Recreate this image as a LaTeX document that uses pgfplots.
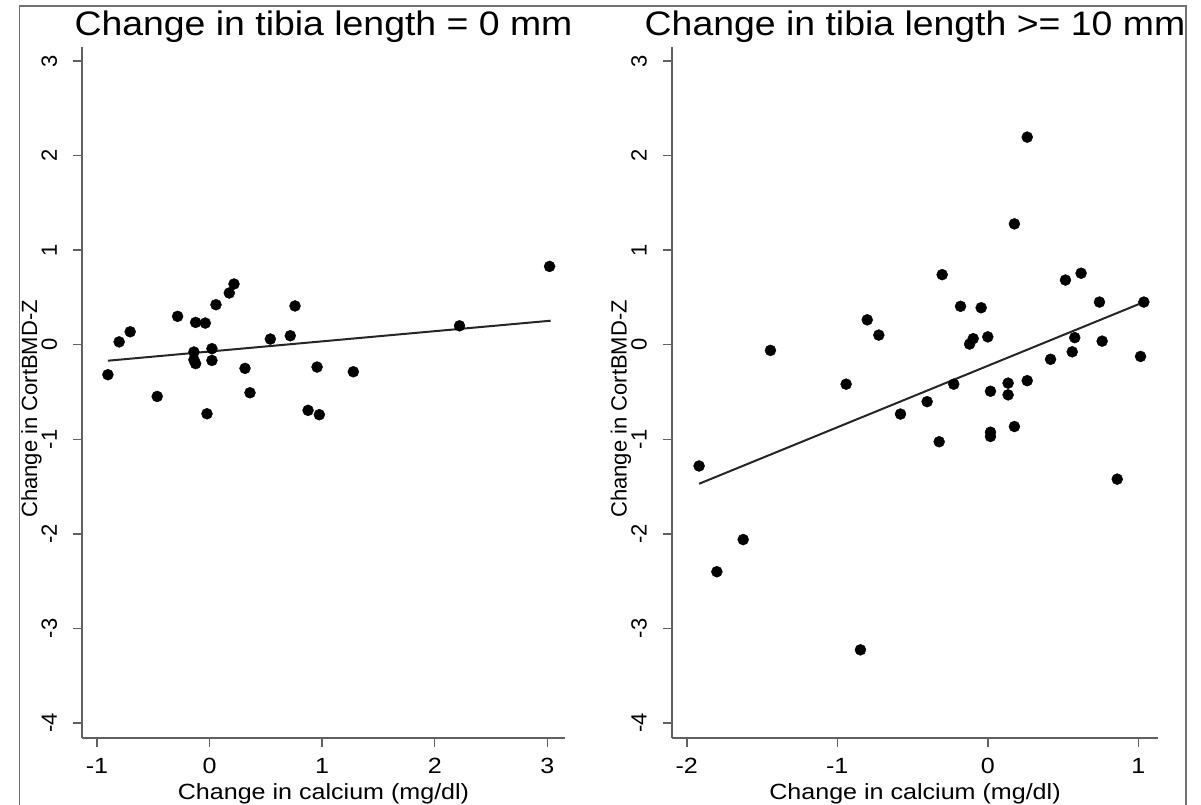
\documentclass[border=0pt]{standalone}
\usepackage{fontspec}
\setmainfont{Liberation Sans}
\newfontfamily\wfont{Liberation Sans}[FakeStretch=1.14]
\newfontfamily\tfont{Liberation Sans}[FakeStretch=1.10]
\usepackage{pgfplots}
\pgfplotsset{compat=1.18}

% change in calcium vs change in CortBMD-Z, tibia growth = 0 mm
\pgfplotstableread{
x y
-0.903 -0.317
-0.803 0.030
-0.705 0.137
-0.465 -0.547
-0.284 0.300
-0.124 0.236
-0.038 0.229
-0.139 -0.077
-0.139 -0.159
-0.124 -0.200
0.021 -0.042
0.021 -0.166
-0.023 -0.730
0.057 0.423
0.175 0.547
0.217 0.642
0.315 -0.250
0.359 -0.508
0.540 0.060
0.717 0.095
0.759 0.410
0.875 -0.694
0.955 -0.236
0.975 -0.740
1.277 -0.286
2.220 0.200
3.020 0.828
}\zerotab

% tibia growth >= 10 mm
\pgfplotstableread{
x y
0.262 2.195
0.177 1.278
-0.303 0.741
0.516 0.684
0.620 0.756
0.742 0.451
1.037 0.451
-0.181 0.406
-0.044 0.391
-0.801 0.263
-0.724 0.102
-1.444 -0.060
-0.097 0.064
-0.121 0.007
0.000 0.083
0.578 0.075
0.760 0.038
0.561 -0.075
1.015 -0.124
0.417 -0.154
-0.941 -0.417
-0.226 -0.417
0.135 -0.406
0.262 -0.380
0.135 -0.530
0.018 -0.492
-0.403 -0.602
-0.580 -0.733
0.177 -0.865
0.018 -0.925
0.018 -0.970
-0.323 -1.026
-1.918 -1.282
0.860 -1.421
-1.625 -2.060
-1.800 -2.400
-0.846 -3.226
}\tentab

\begin{document}
\begin{tikzpicture}[x=1pt,y=1pt]
\path[use as bounding box] (0,0) rectangle (1201,805);
\draw[black!55, line width=1.6pt] (19.5,-5) -- (19.5,799) -- (1186,799) -- (1186,-5);

\pgfplotsset{
  stata/.style={
    scale only axis, height=690.7pt,
    axis lines=left,
    axis line style={-, draw=black!62, line width=1.7pt},
    tick style={draw=black!62, line width=1.5pt},
    tick align=outside, major tick length=9pt,
    ymin=-4.155, ymax=3.148,
    ytick={-4,-3,-2,-1,0,1,2,3},
    yticklabels={-4,-3,-2,-1,0,1,2,3},
    yticklabel style={font=\fontsize{22}{22}\selectfont, rotate=90, anchor=base, yshift=16pt},
    xticklabel style={font=\wfont\fontsize{22}{22}\selectfont, anchor=base, yshift=-26.6pt},
    title style={font=\tfont\fontsize{34}{34}\selectfont, at={(axis description cs:0.5,1)}, anchor=base, yshift=5pt},
    xlabel style={font=\wfont\fontsize{22}{22}\selectfont, at={(axis description cs:0.5,0)}, anchor=base, yshift=-61.3pt},
    ylabel style={font=\fontsize{22}{22}\selectfont, at={(axis description cs:0,0.476)}, anchor=base, yshift=45pt},
    xlabel={Change in calcium (mg/dl)},
    ylabel={Change in CortBMD-Z},
    clip=false,
  },
  dots/.style={only marks, mark=*, mark size=5.5pt, black},
  fit/.style={black!85, line width=2pt},
}

\begin{axis}[stata, at={(82pt,67.3pt)}, anchor=south west, width=483pt,
  xmin=-1.133, xmax=3.157,
  xtick={-1,0,1,2,3}, xticklabels={-1,0,1,2,3},
  title={Change in tibia length = 0 mm}]
\addplot[dots] table {\zerotab};
\addplot[fit] coordinates {(-0.903,-0.169) (3.03,0.254)};
\end{axis}

\begin{axis}[stata, at={(671.7pt,67.3pt)}, anchor=south west, width=486.6pt,
  xmin=-2.10, xmax=1.133,
  xtick={-2,-1,0,1}, xticklabels={-2,-1,0,1},
  title={Change in tibia length >= 10 mm}]
\addplot[dots] table {\tentab};
\addplot[fit] coordinates {(-1.918,-1.47) (1.037,0.451)};
\end{axis}
\end{tikzpicture}
\end{document}
